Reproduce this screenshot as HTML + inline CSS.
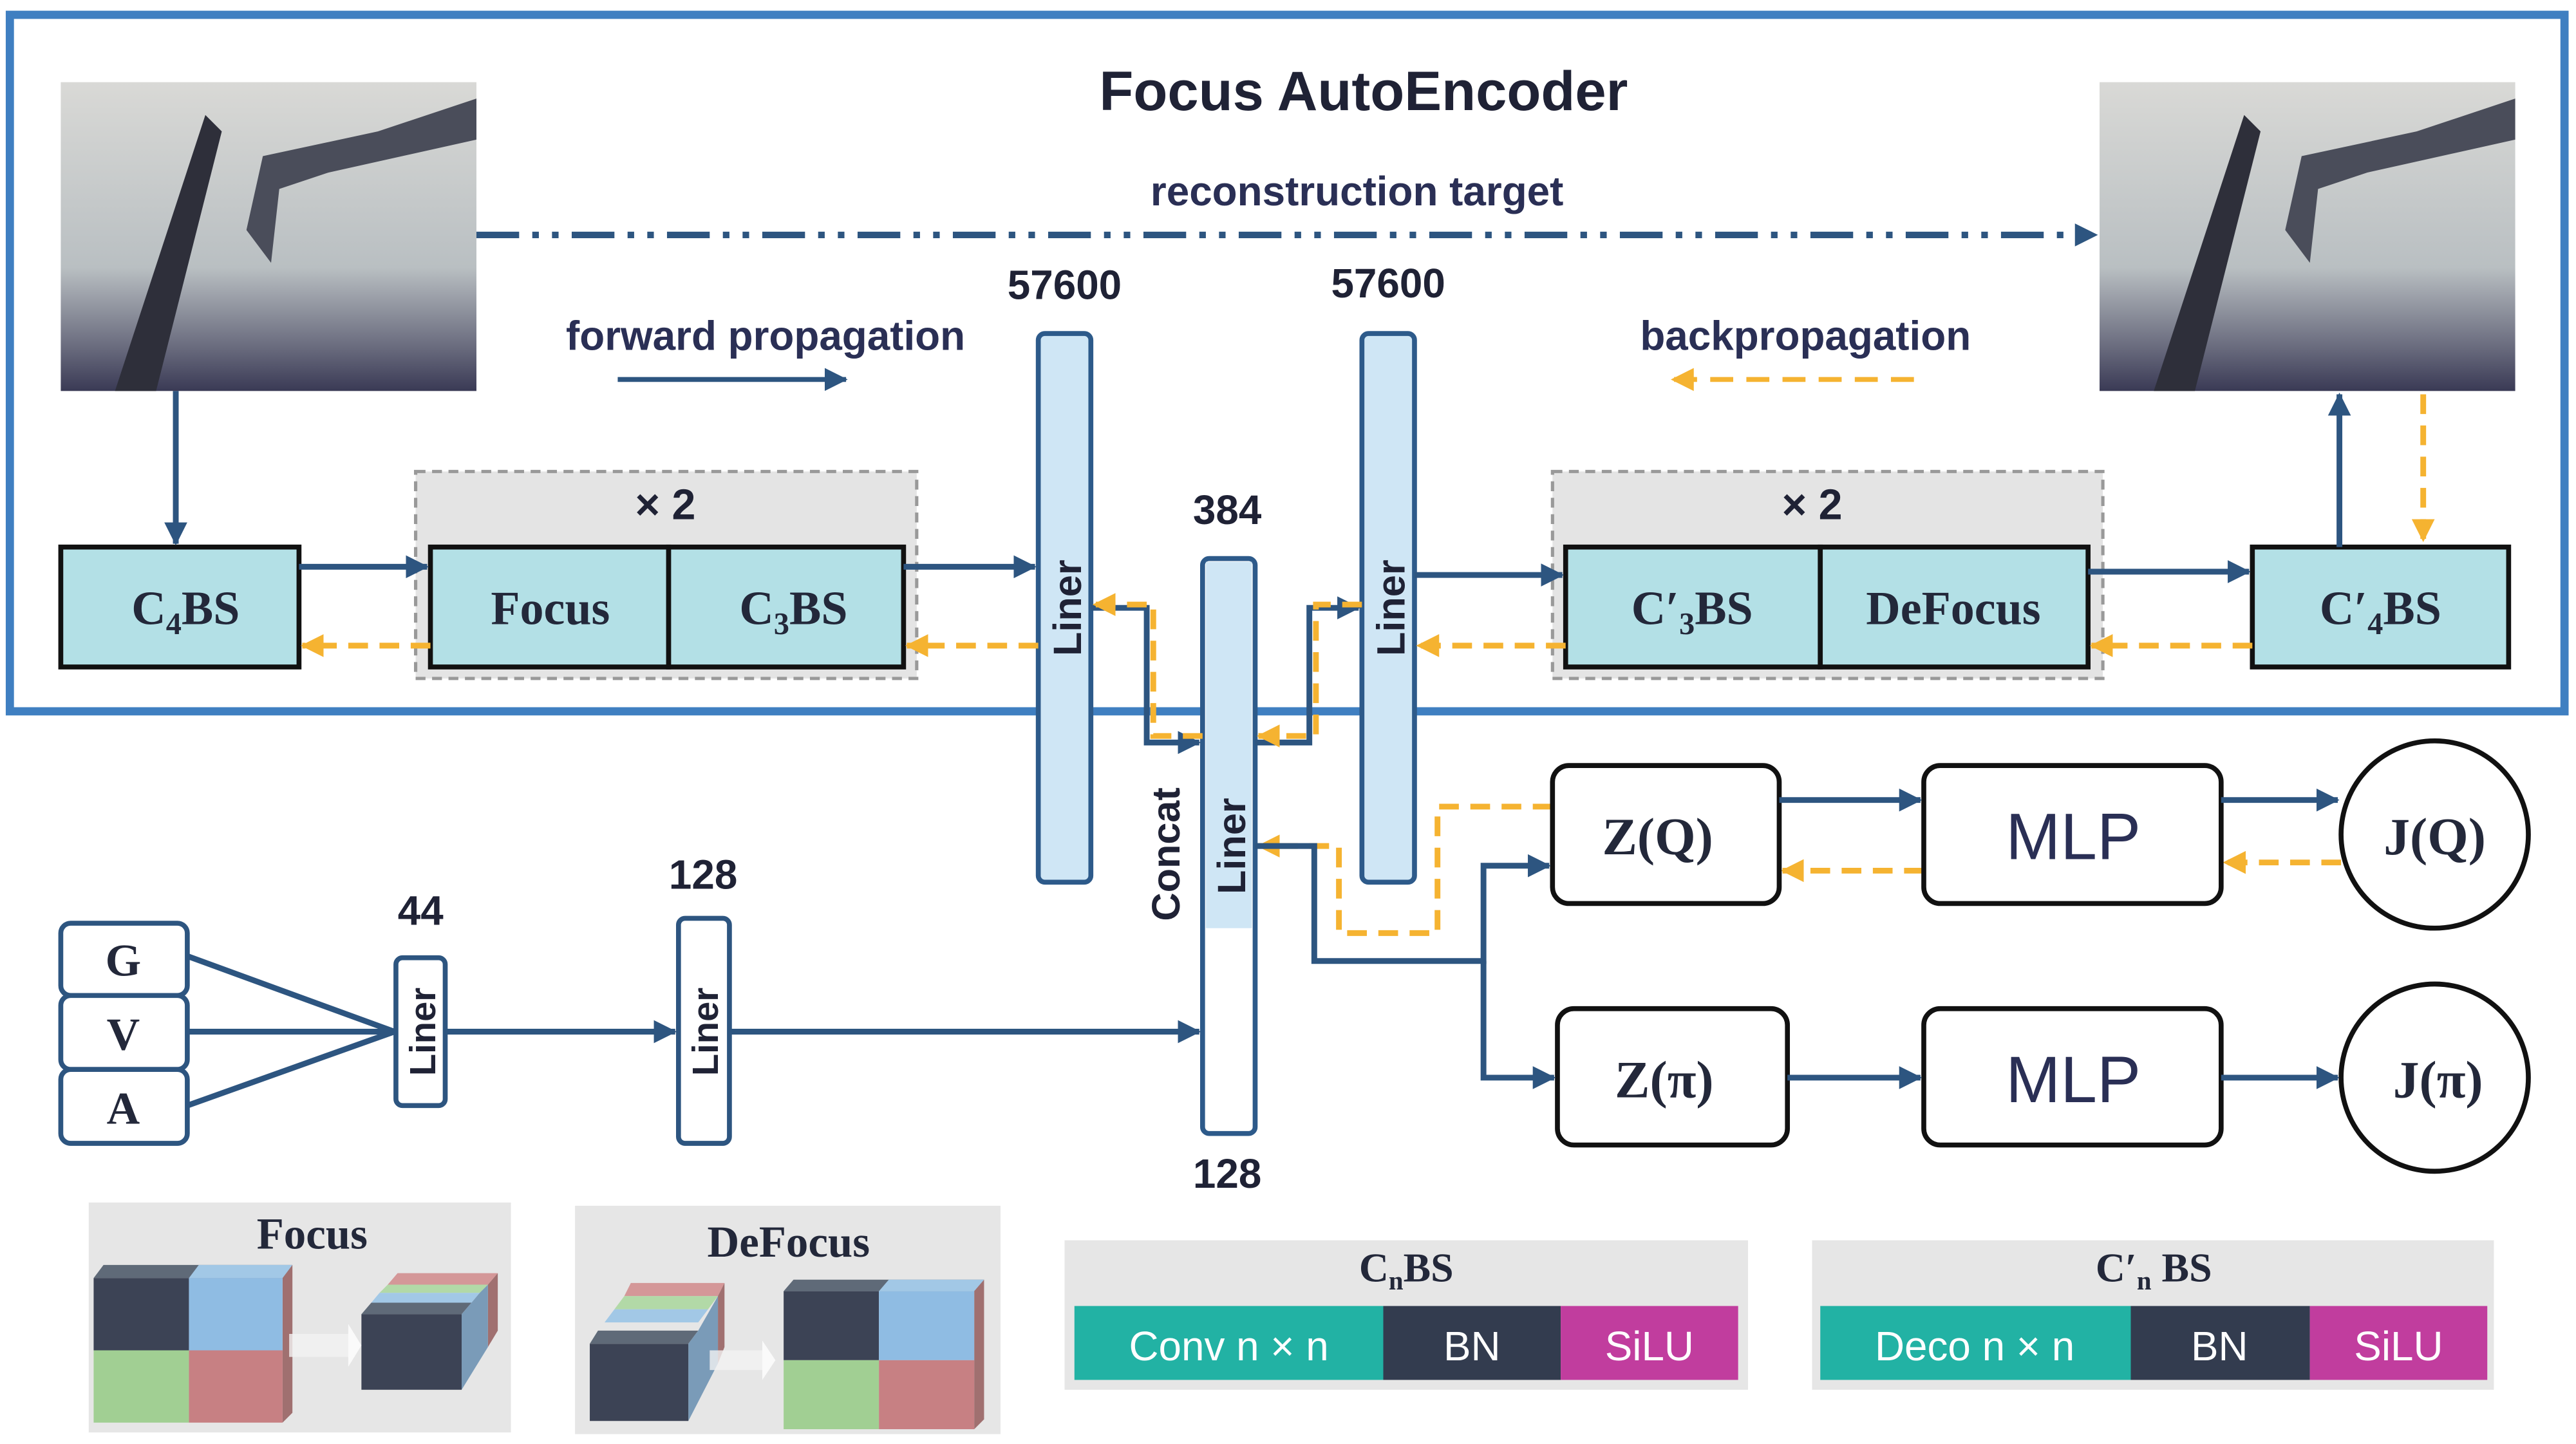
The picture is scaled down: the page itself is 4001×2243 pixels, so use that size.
<!DOCTYPE html>
<html><head><meta charset="utf-8"><style>
html,body{margin:0;padding:0;background:#fff}
svg{display:block}
.t{font-family:"Liberation Sans",sans-serif;font-weight:bold;fill:#1f2235}
.s{font-family:"Liberation Serif",serif;font-weight:bold;fill:#23283a}
.n{font-family:"Liberation Sans",sans-serif;fill:#2a2f55}
</style></head><body>
<svg width="4001" height="2243" viewBox="0 0 1568 879" xmlns="http://www.w3.org/2000/svg">
<defs>
<marker id="ab" markerWidth="14" markerHeight="14" refX="13" refY="7" orient="auto" markerUnits="userSpaceOnUse"><path d="M0,0 L14,7 L0,14 z" fill="#2d5580"/></marker>
<marker id="ao" markerWidth="14" markerHeight="14" refX="13" refY="7" orient="auto" markerUnits="userSpaceOnUse"><path d="M0,0 L14,7 L0,14 z" fill="#f5b331"/></marker>
<linearGradient id="img" x1="0" y1="0" x2="0" y2="1">
<stop offset="0" stop-color="#d9d9d6"/><stop offset="0.6" stop-color="#b9bfc2"/><stop offset="0.85" stop-color="#6c6e80"/><stop offset="1" stop-color="#3a3a55"/></linearGradient>
</defs>

<rect x="6" y="9" width="1555" height="424" fill="none" stroke="#3f7fc1" stroke-width="5"/>
<text x="830" y="67" class="t" font-size="34" text-anchor="middle">Focus AutoEncoder</text>

<g>
<rect x="37" y="50" width="253" height="188" fill="url(#img)"/>
<polygon points="70,238 95,238 135,80 125,70" fill="#2e2f3a"/>
<polygon points="150,140 160,95 230,80 290,60 290,85 200,105 170,115 165,160" fill="#4a4d5a"/>
<rect x="1278" y="50" width="253" height="188" fill="url(#img)"/>
<polygon points="1311,238 1336,238 1376,80 1366,70" fill="#2e2f3a"/>
<polygon points="1391,140 1401,95 1471,80 1531,60 1531,85 1441,105 1411,115 1406,160" fill="#4a4d5a"/>
</g>

<line x1="290" y1="143" x2="1276" y2="143" stroke="#2d5580" stroke-width="4" stroke-dasharray="26,8,4,8,4,8" marker-end="url(#ab)"/>
<text x="826" y="125" class="n" font-size="25" font-weight="bold" text-anchor="middle" fill="#2a2a6a">reconstruction target</text>
<text x="466" y="213" class="n" font-size="25" font-weight="bold" text-anchor="middle" fill="#2a2a6a">forward propagation</text>
<line x1="376" y1="231" x2="515" y2="231" stroke="#2d5580" stroke-width="3" marker-end="url(#ab)"/>
<text x="1099" y="213" class="n" font-size="25" font-weight="bold" text-anchor="middle" fill="#2a2a6a">backpropagation</text>
<line x1="1165" y1="231" x2="1018" y2="231" stroke="#f5b331" stroke-width="3" stroke-dasharray="14,8" marker-end="url(#ao)"/>

<text x="648" y="182" class="t" font-size="25" text-anchor="middle">57600</text>
<text x="845" y="181" class="t" font-size="25" text-anchor="middle">57600</text>
<text x="747" y="319" class="t" font-size="25" text-anchor="middle">384</text>
<text x="747" y="723" class="t" font-size="25" text-anchor="middle">128</text>
<text x="256" y="563" class="t" font-size="25" text-anchor="middle">44</text>
<text x="428" y="541" class="t" font-size="25" text-anchor="middle">128</text>

<rect x="253" y="287" width="305" height="126" fill="#e4e4e4" stroke="#999" stroke-width="2" stroke-dasharray="6,4"/>
<rect x="945" y="287" width="335" height="126" fill="#e4e4e4" stroke="#999" stroke-width="2" stroke-dasharray="6,4"/>
<text x="405" y="316" class="t" font-size="26" text-anchor="middle" font-weight="normal">× 2</text>
<text x="1103" y="316" class="t" font-size="26" text-anchor="middle" font-weight="normal">× 2</text>

<g fill="#b3e0e6" stroke="#111" stroke-width="3">
<rect x="37" y="333" width="145" height="73"/>
<rect x="262" y="333" width="145" height="73"/>
<rect x="407" y="333" width="143" height="73"/>
<rect x="953" y="333" width="155" height="73"/>
<rect x="1108" y="333" width="163" height="73"/>
<rect x="1371" y="333" width="156" height="73"/>
</g>
<g class="s" font-size="29" text-anchor="middle">
<text x="113" y="380">C<tspan font-size="19" dy="6">4</tspan><tspan dy="-6">BS</tspan></text>
<text x="335" y="380">Focus</text>
<text x="483" y="380">C<tspan font-size="19" dy="6">3</tspan><tspan dy="-6">BS</tspan></text>
<text x="1030" y="380">C′<tspan font-size="19" dy="6">3</tspan><tspan dy="-6">BS</tspan></text>
<text x="1189" y="380">DeFocus</text>
<text x="1449" y="380">C′<tspan font-size="19" dy="6">4</tspan><tspan dy="-6">BS</tspan></text>
</g>

<g stroke="#2d5a8a" stroke-width="3">
<rect x="632" y="203" width="32" height="334" rx="4" fill="#cfe6f5"/>
<rect x="829" y="203" width="32" height="334" rx="4" fill="#cfe6f5"/>
<rect x="732" y="340" width="32" height="350" rx="4" fill="#fff"/>
</g>
<rect x="734" y="342" width="28" height="223" fill="#cfe6f5"/>
<g class="t" font-size="24" fill="#2a2f55" font-weight="bold">
<text transform="translate(658,370) rotate(-90)" text-anchor="middle">Liner</text>
<text transform="translate(855,370) rotate(-90)" text-anchor="middle">Liner</text>
<text transform="translate(758,515) rotate(-90)" text-anchor="middle">Liner</text>
<text transform="translate(718,520) rotate(-90)" text-anchor="middle">Concat</text>
</g>

<g stroke="#2d5580" stroke-width="3.5" fill="none">
<line x1="107" y1="238" x2="107" y2="331" marker-end="url(#ab)"/>
<line x1="182" y1="345" x2="260" y2="345" marker-end="url(#ab)"/>
<line x1="550" y1="345" x2="630" y2="345" marker-end="url(#ab)"/>
<line x1="861" y1="350" x2="951" y2="350" marker-end="url(#ab)"/>
<line x1="1271" y1="348" x2="1369" y2="348" marker-end="url(#ab)"/>
<line x1="1424" y1="333" x2="1424" y2="240" marker-end="url(#ab)"/>
<polyline points="664,370 698,370 698,452 730,452" marker-end="url(#ab)"/>
<polyline points="764,452 797,452 797,370 827,370" marker-end="url(#ab)"/>
</g>
<g stroke="#f5b331" stroke-width="3.5" fill="none" stroke-dasharray="12,7">
<line x1="262" y1="393" x2="184" y2="393" marker-end="url(#ao)"/>
<line x1="632" y1="393" x2="552" y2="393" marker-end="url(#ao)"/>
<line x1="953" y1="393" x2="863" y2="393" marker-end="url(#ao)"/>
<line x1="1371" y1="393" x2="1273" y2="393" marker-end="url(#ao)"/>
<line x1="1475" y1="240" x2="1475" y2="329" marker-end="url(#ao)"/>
<polyline points="732,448 702,448 702,368 666,368" marker-end="url(#ao)"/>
<polyline points="829,368 801,368 801,448 766,448" marker-end="url(#ao)"/>
<polyline points="945,491 875,491 875,568 815,568 815,515 766,515" marker-end="url(#ao)"/>
<line x1="1425" y1="525" x2="1354" y2="525" marker-end="url(#ao)"/>
<line x1="1171" y1="530" x2="1085" y2="530" marker-end="url(#ao)"/>
</g>

<g fill="#fff" stroke="#111" stroke-width="3">
<rect x="945" y="466" width="138" height="84" rx="10"/>
<rect x="1171" y="466" width="181" height="84" rx="10"/>
<circle cx="1482" cy="508" r="57"/>
<rect x="948" y="614" width="140" height="83" rx="10"/>
<rect x="1171" y="614" width="181" height="83" rx="10"/>
<circle cx="1482" cy="656" r="57"/>
</g>
<g class="s" font-size="32" text-anchor="middle">
<text x="1009" y="520">Z(Q)</text>
<text x="1013" y="668">Z(π)</text>
<text x="1482" y="520">J(Q)</text>
<text x="1484" y="668">J(π)</text>
</g>
<text x="1262" y="523" class="n" font-size="40" text-anchor="middle">MLP</text>
<text x="1262" y="671" class="n" font-size="40" text-anchor="middle">MLP</text>
<g stroke="#2d5580" stroke-width="3.5" fill="none">
<line x1="1083" y1="487" x2="1169" y2="487" marker-end="url(#ab)"/>
<line x1="1352" y1="487" x2="1423" y2="487" marker-end="url(#ab)"/>
<line x1="1088" y1="656" x2="1169" y2="656" marker-end="url(#ab)"/>
<line x1="1352" y1="656" x2="1423" y2="656" marker-end="url(#ab)"/>
<polyline points="764,515 800,515 800,585 903,585 903,527 943,527" marker-end="url(#ab)"/>
<polyline points="903,585 903,656 946,656" marker-end="url(#ab)"/>
</g>

<g fill="#fff" stroke="#2d5580" stroke-width="3">
<rect x="37" y="562" width="77" height="44" rx="6"/>
<rect x="37" y="606" width="77" height="45" rx="6"/>
<rect x="37" y="651" width="77" height="45" rx="6"/>
<rect x="241" y="583" width="30" height="90" rx="4"/>
<rect x="413" y="559" width="31" height="137" rx="4"/>
</g>
<g class="s" font-size="28" text-anchor="middle">
<text x="75" y="594">G</text><text x="75" y="639">V</text><text x="75" y="684">A</text>
</g>
<g class="t" font-size="22" fill="#2a2f55">
<text transform="translate(265,628) rotate(-90)" text-anchor="middle">Liner</text>
<text transform="translate(437,628) rotate(-90)" text-anchor="middle">Liner</text>
</g>
<g stroke="#2d5580" stroke-width="3.5" fill="none">
<line x1="114" y1="582" x2="240" y2="628"/>
<line x1="114" y1="628" x2="240" y2="628"/>
<line x1="114" y1="673" x2="240" y2="628"/>
<line x1="271" y1="628" x2="411" y2="628" marker-end="url(#ab)"/>
<line x1="444" y1="628" x2="730" y2="628" marker-end="url(#ab)"/>
</g>

<rect x="54" y="732" width="257" height="140" fill="#e6e6e6"/>
<text x="190" y="760" class="s" font-size="27" text-anchor="middle">Focus</text>
<g>
<polygon points="57,778 63,770 178,770 172,778" fill="#5f6a78"/>
<polygon points="115,778 121,770 178,770 172,778" fill="#a2c8e6"/>
<polygon points="172,778 178,770 178,860 172,866" fill="#a07070"/>
<rect x="57" y="778" width="58" height="44" fill="#3c4355"/>
<rect x="115" y="778" width="57" height="44" fill="#8fbce3"/>
<rect x="57" y="822" width="58" height="44" fill="#a1cf93"/>
<rect x="115" y="822" width="57" height="44" fill="#c78083"/>
<polygon points="236,782 242,775 303,775 297,782" fill="#d49798"/>
<polygon points="231,787 236,782 297,782 292,787" fill="#b2d9a7"/>
<polygon points="226,793 231,787 292,787 287,793" fill="#a2c8e6"/>
<polygon points="297,782 303,775 303,810 297,820" fill="#a07070"/>
<polygon points="220,800 226,793 287,793 281,800" fill="#5f6a78"/>
<polygon points="281,800 287,793 292,787 297,782 297,820 281,846" fill="#7a9bb8"/>
<rect x="220" y="800" width="61" height="46" fill="#3c4355"/>
<rect x="176" y="812" width="40" height="14" fill="#f2f2f2" opacity="0.8"/>
<polygon points="212,806 220,819 212,832" fill="#fafafa"/>
</g>
<rect x="350" y="734" width="259" height="139" fill="#e6e6e6"/>
<text x="480" y="765" class="s" font-size="27" text-anchor="middle">DeFocus</text>
<g>
<polygon points="380,789 384,781 441,781 437,789" fill="#d49798"/>
<polygon points="374,797 380,789 437,789 431,797" fill="#b2d9a7"/>
<polygon points="368,805 374,797 431,797 425,805" fill="#a2c8e6"/>
<polygon points="437,789 441,781 441,820 437,830" fill="#a07070"/>
<polygon points="359,818 364,810 425,810 419,818" fill="#5f6a78"/>
<polygon points="419,818 425,810 437,789 437,830 419,865" fill="#7a9bb8"/>
<rect x="359" y="818" width="60" height="47" fill="#3c4355"/>
<polygon points="477,786 483,779 599,779 593,786" fill="#5f6a78"/>
<polygon points="535,786 541,779 599,779 593,786" fill="#a2c8e6"/>
<polygon points="593,786 599,779 599,864 593,870" fill="#a07070"/>
<rect x="477" y="786" width="58" height="42" fill="#3c4355"/>
<rect x="535" y="786" width="58" height="42" fill="#8fbce3"/>
<rect x="477" y="828" width="58" height="42" fill="#a1cf93"/>
<rect x="535" y="828" width="58" height="42" fill="#c78083"/>
<rect x="432" y="822" width="35" height="12" fill="#f2f2f2" opacity="0.8"/>
<polygon points="464,816 472,828 464,840" fill="#fafafa"/>
</g>

<rect x="648" y="755" width="416" height="91" fill="#e6e6e6"/>
<text x="856" y="780" class="s" font-size="25" text-anchor="middle">C<tspan font-size="16" dy="5">n</tspan><tspan dy="-5">BS</tspan></text>
<rect x="654" y="795" width="188" height="45" fill="#22b2a4"/>
<rect x="842" y="795" width="108" height="45" fill="#333c4f"/>
<rect x="950" y="795" width="108" height="45" fill="#c13d9e"/>
<g font-family="Liberation Sans,sans-serif" font-size="25" fill="#fff" text-anchor="middle">
<text x="748" y="828">Conv n × n</text><text x="896" y="828">BN</text><text x="1004" y="828">SiLU</text>
</g>
<rect x="1103" y="755" width="415" height="91" fill="#e6e6e6"/>
<text x="1311" y="780" class="s" font-size="25" text-anchor="middle">C′<tspan font-size="16" dy="5">n</tspan><tspan dy="-5"> BS</tspan></text>
<rect x="1108" y="795" width="189" height="45" fill="#22b2a4"/>
<rect x="1297" y="795" width="109" height="45" fill="#333c4f"/>
<rect x="1406" y="795" width="108" height="45" fill="#c13d9e"/>
<g font-family="Liberation Sans,sans-serif" font-size="25" fill="#fff" text-anchor="middle">
<text x="1202" y="828">Deco n × n</text><text x="1351" y="828">BN</text><text x="1460" y="828">SiLU</text>
</g>
</svg>
</body></html>
